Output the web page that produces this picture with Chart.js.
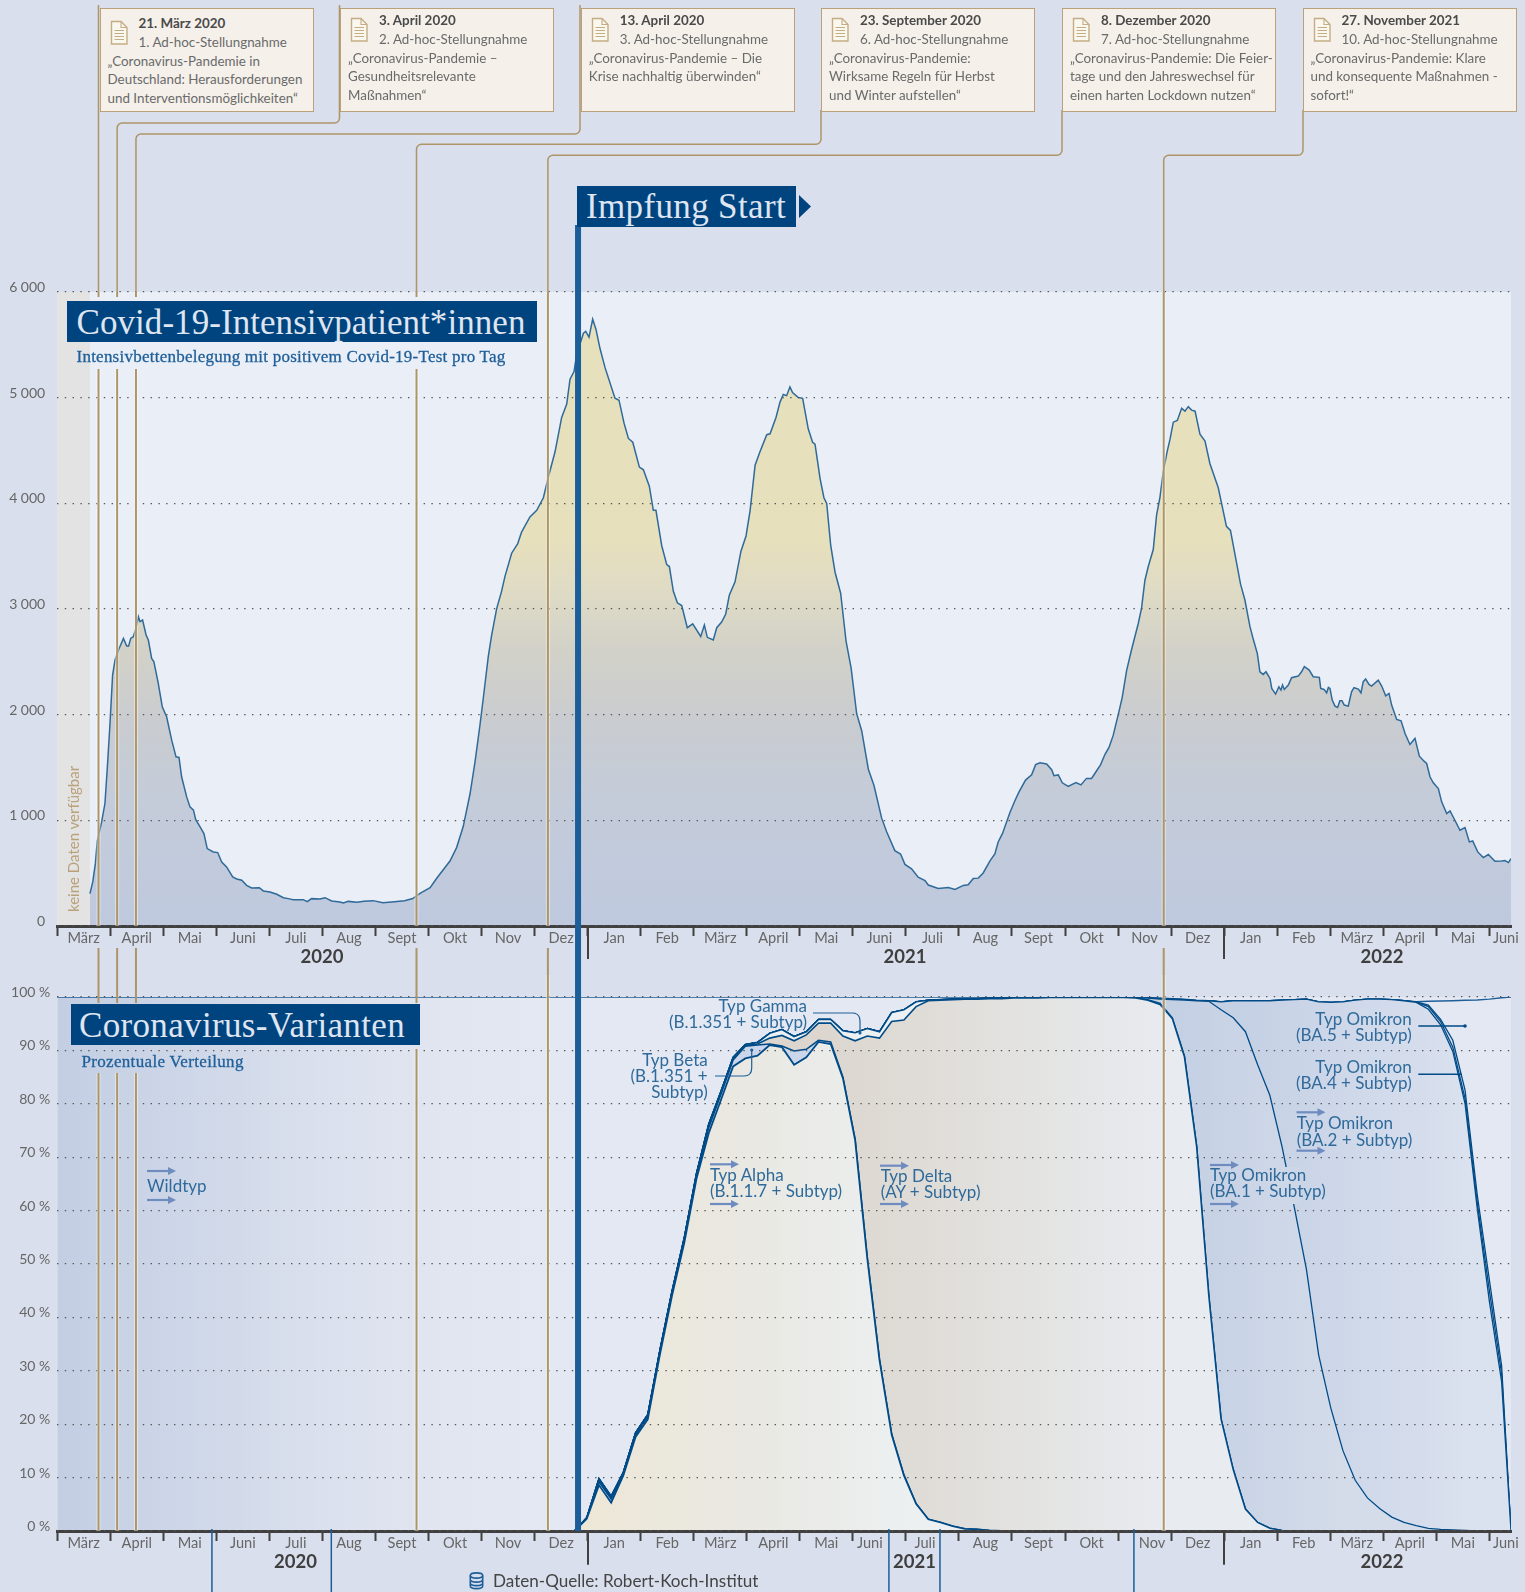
<!DOCTYPE html>
<html lang="de">
<head>
<meta charset="utf-8">
<title>Covid-19-Intensivpatient*innen und Coronavirus-Varianten</title>
<script src="https://cdn.jsdelivr.net/npm/chart.js@4"></script>
<style>
html, body { margin: 0; background: #d9dfec; }
#page { position: relative; width: 1525px; height: 1592px; overflow: hidden; font-family: Lato, sans-serif; }
canvas { position: absolute; left: 0; }
#topChart { top: 0; }
#bottomChart { top: 975px; }
svg.layer { position: absolute; left: 0; top: 0; }
.note { position: absolute; top: 8px; height: 104px; box-sizing: border-box; width: 214px; background: #f5f1ea; border: 1.5px solid #b9a27a; }
.note span { position: absolute; white-space: nowrap; transform: translateY(-50%); font-size: 13.4px; line-height: 1; color: #6a6a6a; }
.note b { color: #4a4a4a; }
.tag { position: absolute; background: #00447f; }
.serif { position: absolute; white-space: nowrap; font-family: "Liberation Serif", serif; transform: translateY(-50%); line-height: 1; }
.sub { font-size: 17px; color: #1f5f99; -webkit-text-stroke: 0.3px #1f5f99; }
.lab { position: absolute; white-space: nowrap; transform: translateY(-50%); font-size: 17px; line-height: 1; color: #2f6a9a; }
.right { transform: translate(-100%, -50%); text-align: right; }
</style>
</head>
<body>
<div id="page">
<canvas id="topChart" width="1525" height="975"></canvas>
<canvas id="bottomChart" width="1525" height="617"></canvas>
</div>
<script>
// Monate auf der Zeitachse
const months = ['März','April','Mai','Juni','Juli','Aug','Sept','Okt','Nov','Dez','Jan','Feb','März','April','Mai','Juni','Juli','Aug','Sept','Okt','Nov','Dez','Jan','Feb','März','April','Mai','Juni'];
const years = ['2020','2021','2022'];
const icuTicks = [0,1000,2000,3000,4000,5000,6000];
const shareTicks = [0,10,20,30,40,50,60,70,80,90,100];

// Stellungnahmen + Impfstart (Tage seit 1. März 2020)
const adHocDays = [23.7, 34.4, 45.2, 206.2, 281.6, 635];
const vaccinationDay = 298.9;
const noDataUntil = 18.8;
const variantMarkDays = [88.8, 157.3, 477.3, 506.6, 617.9];

// Intensivpatienten
const icuDays = [18.8,20.4,21.9,23,25.5,27.4,28.8,30.3,31.8,33.2,35.5,36.4,38,39.9,41,42.2,43.7,45.2,46.6,47.5,49,51,52.3,54.2,55.5,58,60.3,62.8,65.7,68.2,69.9,71.4,74.3,76.2,78.2,79.5,82,84.2,86.1,89.6,92.1,94.4,97.2,100.7,103,105.9,108.7,111.6,116,118.3,122.1,126,129.8,132.6,135.5,141.2,143.5,146,150.8,153.7,157.5,162.3,164.2,167,172,176,181.3,186.9,192,199.4,204,208.2,214,217.8,225.4,229.2,233,236.9,239.8,242.6,244.5,247.4,249.3,252.2,255,257,260.8,264.3,266.5,271.3,275.2,279,281.9,285.7,289.5,292.4,294.3,296.6,298.1,302,303.3,305.2,307.3,309.2,311.5,314.4,320.1,322.4,325.3,327.8,330.3,334.1,336.4,339.8,342.1,343.6,346.9,349.8,351.3,353.6,355.9,358.4,361.6,364.7,369.3,371.4,373.1,376.5,378.5,381.3,383.6,385.7,389,392.4,395.3,397.6,400.5,403.3,407.2,409.1,412.5,414.8,416.7,418.6,420.5,422,425.3,427.8,431,433.5,434.9,437.8,440,441.6,443.9,446.4,449.6,452.7,455.6,458.8,461.7,465.5,468.7,473.1,476,480.7,484,486.5,490.3,494.1,498,499.9,505.6,511.4,515.2,520,522.8,525.7,528.6,531.4,535.3,538.1,540,542.5,546.7,549.6,551.9,555.7,559.2,561.5,564,567.8,570.7,572,574.5,576.8,580.2,584.6,587.5,590.7,593.6,596.5,598.8,601.3,603.6,606,608.9,611.2,613.7,616.6,620.4,622.3,624.2,626.1,629,630.9,632.8,634.7,637,638.6,640.5,642.8,645.3,647.2,649.1,651,653,655.8,658.7,661.5,666.3,671,673.3,679.1,681.6,684.5,686.4,688.7,690.2,692.1,693.7,696,697,699.2,701.1,702.3,703.2,704.2,706.5,708.4,712.2,714.1,715.7,718.5,720.8,724.3,725.1,727,728.5,729.5,730.4,731.7,733.3,734.8,736.1,737.3,738.6,740.9,742.8,744.2,746.7,748.2,749.5,750.9,752.8,754.3,758.1,760.1,762.4,764.3,765.8,768.7,771.2,773.5,776.3,779.2,781.7,784.4,785.9,787.8,789.7,792.6,794.5,797.4,799.3,802.1,805,807.9,810.4,812.3,815.2,818.4,821.3,825.1,828.9,830.8,832.8,834.3];
const icuPatients = [306,417,590,805,985,1159,1506,1917,2375,2517,2627,2659,2722,2650,2650,2722,2738,2817,2927,2880,2896,2754,2706,2533,2501,2296,2075,1980,1759,1601,1595,1412,1222,1127,1096,1007,938,875,733,701,695,606,559,464,445,433,385,360,363,332,322,300,268,259,249,249,230,259,256,268,237,227,218,233,225,235,240,221,228,240,260,308,362,452,615,742,941,1249,1556,1900,2153,2551,2750,3004,3167,3311,3528,3619,3728,3872,3934,4053,4252,4488,4813,4940,5175,5247,5410,5610,5628,5573,5743,5646,5465,5284,4994,4976,4759,4614,4578,4343,4317,4162,3934,3934,3601,3420,3402,3167,3058,3033,2823,2859,2740,2848,2732,2707,2823,2877,2950,3130,3257,3547,3691,3927,4361,4488,4650,4658,4813,4958,5030,5019,5102,5048,5001,4994,4705,4578,4560,4234,4053,3999,3601,3348,3149,2696,2443,2009,1846,1484,1332,1023,892,713,681,583,541,462,430,388,355,365,345,384,391,449,453,502,616,681,795,876,1072,1186,1267,1381,1430,1527,1544,1534,1479,1423,1430,1355,1322,1358,1335,1397,1397,1469,1527,1625,1690,1804,2000,2163,2417,2619,2863,3010,3270,3400,3563,3889,4052,4296,4491,4605,4768,4785,4899,4873,4915,4882,4872,4654,4589,4377,4147,3782,3744,3235,3085,2833,2713,2580,2406,2381,2406,2343,2248,2195,2264,2233,2280,2239,2280,2350,2365,2406,2454,2422,2359,2353,2248,2239,2207,2258,2248,2138,2081,2068,2132,2132,2091,2081,2217,2255,2242,2207,2312,2337,2286,2271,2327,2271,2179,2201,2091,1955,1942,1822,1718,1775,1607,1560,1538,1412,1355,1301,1175,1064,1090,1001,906,932,796,805,701,647,676,613,616,619,600,638];

// Varianten: Oberkante je Fläche in Prozent, eine Spalte pro Woche ab Ende Dezember 2020
const firstWeekDay = 296.9;
const alphaTop = [0,2.3,8.6,5.3,10.4,17.6,20.9,33.1,44.2,54,66,74.5,80.7,87,88.5,89,91,90.6,87.3,88.7,91.6,91.2,84.8,73.2,51,32,18,10.4,5.1,2.2,1.6,0.9,0.4,0.3,0.1,0,0,0,0,0,0,0,0,0,0,0,0,0,0,0,0,0,0,0,0,0,0,0,0,0,0,0,0,0,0,0,0,0,0,0,0,0,0,0,0,0,0,0];
const betaTop = [0,2.4,9.2,6,10.7,18,21.4,33.5,44.6,54.5,66.5,75.5,81.8,88.2,90.8,91,91.2,90.8,89.9,90.2,91.9,91.6,85,73.4,51.1,32.1,18.1,10.5,5.1,2.2,1.6,0.9,0.4,0.3,0.1,0,0,0,0,0,0,0,0,0,0,0,0,0,0,0,0,0,0,0,0,0,0,0,0,0,0,0,0,0,0,0,0,0,0,0,0,0,0,0,0,0,0,0];
const deltaTop = [0,2.4,9.4,6.2,10.8,18.1,21.5,33.6,44.7,54.6,66.6,75.7,82,88.4,90.9,91.2,92.3,92.8,91.8,92.9,95.1,95.1,92.7,91.8,92.7,92.3,95.4,95.7,98.2,99.3,99.4,99.5,99.6,99.6,99.7,99.7,99.8,99.8,99.8,99.9,99.9,99.9,99.9,99.9,99.9,99.9,99.8,99.4,98.6,96,88.8,72,44,21,11.5,4.1,1.6,0.5,0.1,0,0,0,0,0,0,0,0,0,0,0,0,0,0,0,0,0,0,0];
const gammaTop = [0,2.5,9.8,6.5,11,18.4,21.8,33.9,45,55,67,76.2,82.3,88.7,91.1,91.5,93.2,93.9,92.6,93.5,95.8,95.8,93.7,93.3,94.1,93.5,97.1,97.6,99.1,99.4,99.5,99.6,99.7,99.7,99.8,99.8,99.9,99.9,99.9,99.9,99.9,100,100,100,100,99.9,99.8,99.5,98.8,96.1,88.9,72.1,44,21,11.5,4.1,1.6,0.5,0.1,0,0,0,0,0,0,0,0,0,0,0,0,0,0,0,0,0,0,0];
const ba1Top = [0,2.5,9.8,6.5,11,18.4,21.8,33.9,45,55,67,76.2,82.3,88.7,91.1,91.5,93.2,93.9,92.6,93.5,95.8,95.8,93.7,93.3,94.1,93.5,97.1,97.6,99.1,99.4,99.5,99.6,99.7,99.7,99.8,99.8,99.9,99.9,99.9,99.9,99.9,100,100,100,100,99.9,99.9,99.8,99.6,99.5,99.4,99.3,99.2,97.6,96.1,93.5,87.3,81.6,72,60.7,49,33,23,15,9.5,6.2,4.2,2.6,1.6,1,0.5,0.3,0.2,0.1,0,0,0,0];
const ba2Top = [0,2.5,9.8,6.5,11,18.4,21.8,33.9,45,55,67,76.2,82.3,88.7,91.1,91.5,93.2,93.9,92.6,93.5,95.8,95.8,93.7,93.3,94.1,93.5,97.1,97.6,99.1,99.4,99.5,99.6,99.7,99.7,99.8,99.8,99.9,99.9,99.9,99.9,99.9,100,100,100,100,99.9,99.9,99.8,99.7,99.6,99.5,99.3,99.3,99.1,99.3,99.3,99.3,99.3,99.4,99.5,99.6,99.1,99,99.1,99.4,99.6,99.6,99.5,99.3,99,97.7,94.8,89.8,80.1,60.5,43,28,0];
const ba4Top = [0,2.5,9.8,6.5,11,18.4,21.8,33.9,45,55,67,76.2,82.3,88.7,91.1,91.5,93.2,93.9,92.6,93.5,95.8,95.8,93.7,93.3,94.1,93.5,97.1,97.6,99.1,99.4,99.5,99.6,99.7,99.7,99.8,99.8,99.9,99.9,99.9,99.9,99.9,100,100,100,100,99.9,99.9,99.8,99.7,99.6,99.5,99.3,99.3,99.1,99.3,99.3,99.3,99.3,99.4,99.5,99.6,99.1,99,99.1,99.4,99.6,99.6,99.5,99.3,99.05,98.2,95.4,90.6,81,61.5,45,29.5,0];
const ba5Top = [0,2.5,9.8,6.5,11,18.4,21.8,33.9,45,55,67,76.2,82.3,88.7,91.1,91.5,93.2,93.9,92.6,93.5,95.8,95.8,93.7,93.3,94.1,93.5,97.1,97.6,99.1,99.4,99.5,99.6,99.7,99.7,99.8,99.8,99.9,99.9,99.9,99.9,99.9,100,100,100,100,99.9,99.9,99.8,99.7,99.6,99.5,99.3,99.3,99.1,99.3,99.3,99.3,99.3,99.4,99.5,99.6,99.1,99,99.1,99.4,99.6,99.6,99.5,99.3,99.1,98.5,95.8,91.9,82.6,63,47,31,0];
const wildTop = [100,100,100,100,100,100,100,100,100,100,100,100,100,100,100,100,100,100,100,100,100,100,100,100,100,100,100,100,100,100,100,100,100,100,100,100,100,100,100,100,100,100,100,100,100,100,100,99.9,99.8,99.7,99.6,99.4,99.3,99.1,99.3,99.3,99.3,99.3,99.4,99.5,99.6,99.1,99,99.1,99.4,99.6,99.6,99.5,99.3,99.1,99.2,99.25,99.3,99.4,99.45,99.6,99.85,100];

const xMax = 834.3, monthDays = 30.44;
const INK = '#404040', TAN = '#ad9567', BLUE = '#1b5e99', CURVE = '#004b87';
const SPLIT = 975; // y der Naht zwischen den beiden Canvas
Chart.defaults.font.family = 'Lato, sans-serif';
Chart.defaults.devicePixelRatio = 1;

function weekPoints(values, first) {
  const pts = [{ x: 0, y: first }];
  values.forEach((v, i) => pts.push({ x: Math.min(firstWeekDay + i * 7, xMax), y: v }));
  return pts;
}

// horizontaler Verlauf zwischen zwei Tagen
function hGrad(d0, d1, stops) {
  return c => {
    const s = c.chart.scales.x;
    if (!s || !c.chart.chartArea) return 'transparent';
    const g = c.chart.ctx.createLinearGradient(s.getPixelForValue(d0), 0, s.getPixelForValue(d1), 0);
    stops.forEach((col, i) => g.addColorStop(i / (stops.length - 1), col));
    return g;
  };
}

function monthScale(labelShift, axisH) {
  return {
    type: 'linear', min: 0, max: xMax,
    afterBuildTicks(axis) {
      const t = [];
      months.forEach((name, i) => {
        t.push({ value: i * monthDays, major: true, name: '' });
        const frac = i === months.length - 1 ? 0.31 : 0.5;
        const mid = (i + frac + (labelShift[i] || 0)) * monthDays;
        t.push({ value: mid, major: false, name });
      });
      axis.ticks = t;
    },
    afterFit(axis) { axis.height = axisH; axis.paddingLeft = 0; axis.paddingRight = 0; },
    grid: { drawOnChartArea: false, tickLength: 10, tickWidth: 2, tickColor: c => c.tick && c.tick.major ? INK : 'rgba(0,0,0,0)' },
    border: { color: INK, width: 3, z: 1 },
    ticks: { autoSkip: false, minRotation: 0, maxRotation: 0, padding: -6, color: '#666', font: { size: 14.6 }, callback: (v, i, t) => t[i].name }
  };
}

function valueScale(ticks, max, pad, fmt) {
  return {
    min: 0, max,
    afterBuildTicks(axis) { axis.ticks = ticks.map(value => ({ value })); },
    afterFit(axis) { axis.width = 57.2; axis.paddingTop = 0; axis.paddingBottom = 0; },
    grid: { color: '#555', lineWidth: 1.3, drawTicks: false, z: 1 },
    border: { display: false, dash: [1.4, 6.4] },
    // zweite leere Zeile schiebt die Beschriftung leicht über die Linie
    ticks: { padding: pad, color: '#666', font: { size: 14, lineHeight: 0.65 }, callback: v => [fmt(v), ''] }
  };
}

function yearMarks(ctx, chart, yearX, textY, longTo) {
  const x = chart.scales.x;
  ctx.strokeStyle = INK; ctx.lineWidth = 2;
  [10, 22].forEach(m => {
    const px = Math.round(x.getPixelForValue(m * monthDays));
    ctx.beginPath(); ctx.moveTo(px, chart.chartArea.bottom); ctx.lineTo(px, longTo); ctx.stroke();
  });
  ctx.fillStyle = '#3f3f3f'; ctx.font = 'bold 18.5px Lato'; ctx.textAlign = 'center'; ctx.textBaseline = 'middle';
  years.forEach((y, i) => ctx.fillText(y, yearX[i], textY));
}

function tanLine(ctx, px, y0, y1, halo) {
  if (halo) {
    ctx.strokeStyle = 'rgba(255,255,255,0.45)'; ctx.lineWidth = 4;
    ctx.beginPath(); ctx.moveTo(px, y0); ctx.lineTo(px, y1); ctx.stroke();
  }
  ctx.strokeStyle = TAN; ctx.lineWidth = 2;
  ctx.beginPath(); ctx.moveTo(px, y0); ctx.lineTo(px, y1); ctx.stroke();
}

const topFrame = {
  id: 'topFrame',
  beforeDraw(chart) {
    const { ctx, chartArea: a, scales: { x } } = chart;
    ctx.save();
    ctx.fillStyle = '#eaeef7'; ctx.fillRect(a.left, a.top, a.right - a.left, a.bottom - a.top);
    ctx.fillStyle = '#e3e3e3'; ctx.fillRect(a.left, a.top, x.getPixelForValue(noDataUntil) - a.left, a.bottom - a.top);
    ctx.restore();
  },
  afterDraw(chart) {
    const { ctx, chartArea: a, scales: { x } } = chart;
    ctx.save();
    // Verbinder von den Stellungnahmen nach unten
    const elbow = [[null, 5], [339.5, 123], [580, 134], [821, 144.3], [1062, 155.3], [1303, 155.3]];
    adHocDays.forEach((d, i) => {
      const px = x.getPixelForValue(d), [ex, ey] = elbow[i];
      ctx.beginPath();
      ctx.lineWidth = 1.5; ctx.strokeStyle = TAN;
      if (ex === null) { ctx.moveTo(px, ey); ctx.lineTo(px, a.top); }
      else {
        ctx.moveTo(ex, i < 3 ? 5 : 110);
        ctx.arcTo(ex, ey, px, ey, 5);
        ctx.arcTo(px, ey, px, a.top, 5);
        ctx.lineTo(px, a.top);
      }
      ctx.stroke();
      const gap = i < 4;
      tanLine(ctx, px, a.top, gap ? 297 : a.bottom, true);
      if (gap) tanLine(ctx, px, 369, a.bottom, true);
      tanLine(ctx, px, 948, SPLIT, false);
    });
    const v = x.getPixelForValue(vaccinationDay);
    ctx.strokeStyle = BLUE; ctx.lineWidth = 6;
    ctx.beginPath(); ctx.moveTo(v, 225); ctx.lineTo(v, SPLIT); ctx.stroke();
    yearMarks(ctx, chart, [322, 905, 1382], 957, 959);
    ctx.restore();
  }
};

const bottomFrame = {
  id: 'bottomFrame',
  beforeDraw(chart) {
    const { ctx, chartArea: a } = chart;
    ctx.save();
    ctx.fillStyle = '#e4e8f2'; ctx.fillRect(a.left, a.top, a.right - a.left, a.bottom - a.top);
    ctx.restore();
  },
  afterDraw(chart) {
    const { ctx, chartArea: a, scales: { x } } = chart;
    ctx.save();
    // Lücken hinter Titel und Untertitel
    adHocDays.forEach((d, i) => {
      const px = x.getPixelForValue(d);
      if (i < 3) { tanLine(ctx, px, 0, 1003 - SPLIT, false); tanLine(ctx, px, 1073 - SPLIT, a.bottom, true); }
      else if (i === 3) { tanLine(ctx, px, 0, 1003 - SPLIT, false); tanLine(ctx, px, 1049 - SPLIT, a.bottom, true); }
      else tanLine(ctx, px, 0, a.bottom, true);
    });
    const v = x.getPixelForValue(vaccinationDay);
    ctx.strokeStyle = BLUE; ctx.lineWidth = 6;
    ctx.beginPath(); ctx.moveTo(v, 0); ctx.lineTo(v, a.bottom); ctx.stroke();
    ctx.lineWidth = 1.5;
    variantMarkDays.forEach(d => {
      const px = x.getPixelForValue(d);
      ctx.beginPath(); ctx.moveTo(px, a.bottom - 2); ctx.lineTo(px, chart.height); ctx.stroke();
    });
    yearMarks(ctx, chart, [295.4, 914.4, 1382], 1561.7 - SPLIT, 1564.7 - SPLIT);
    ctx.restore();
  }
};

new Chart(document.getElementById('topChart'), {
  type: 'line',
  plugins: [topFrame],
  data: {
    datasets: [{
      data: icuDays.map((d, i) => ({ x: d, y: icuPatients[i] })),
      borderColor: '#2f6a99', borderWidth: 1.5, pointRadius: 0, tension: 0, fill: 'origin',
      backgroundColor: c => {
        if (!c.chart.chartArea) return 'transparent';
        const g = c.chart.ctx.createLinearGradient(0, 292, 0, 926);
        g.addColorStop(0, '#e7e0bc'); g.addColorStop(0.39, '#e7e0bc');
        g.addColorStop(0.46, '#e0dcc4'); g.addColorStop(0.56, '#d3d2c8');
        g.addColorStop(0.68, '#c9ccd0'); g.addColorStop(0.81, '#c4ccda'); g.addColorStop(1, '#bfc9de');
        return g;
      }
    }]
  },
  options: {
    responsive: false, animation: false, events: [],
    layout: { padding: { top: 292, right: 14, left: 0, bottom: 0 } },
    plugins: { legend: { display: false }, tooltip: { enabled: false } },
    scales: {
      x: monthScale({}, SPLIT - 926),
      y: valueScale(icuTicks, 6000, 12, v => v === 0 ? '0' : (v / 1000) + '\u202f000')
    }
  }
});

function variantSet(values, first, width, fill, color, line) {
  return { data: weekPoints(values, first), borderColor: line || CURVE, borderWidth: width, pointRadius: 0, tension: 0, fill, backgroundColor: color };
}

new Chart(document.getElementById('bottomChart'), {
  type: 'line',
  plugins: [bottomFrame],
  data: {
    datasets: [
      variantSet(alphaTop, 0, 1.8, 'origin', hGrad(300, 490, ['#ede7d6', '#e9e8e2', '#ecf0f1'])),
      variantSet(betaTop, 0, 1.6, '-1', '#cbd6ea'),
      variantSet(deltaTop, 0, 1.6, '-1', hGrad(440, 640, ['#dcd6cf', '#e2e1de', '#e8ebf0'])),
      variantSet(gammaTop, 0, 1.6, '-1', '#edf0f3'),
      variantSet(ba1Top, 0, 1.3, '-1', hGrad(640, 740, ['#c3cfe3', '#d4dcea'])),
      variantSet(ba2Top, 0, 1.3, '-1', hGrad(680, 810, ['#c4d0e4', '#dae1ef'])),
      variantSet(ba4Top, 0, 1.3, '-1', '#dce2ef'),
      variantSet(ba5Top, 0, 1.3, '-1', '#dce2ef'),
      variantSet(wildTop, 100, 1.4, '-1', hGrad(0, 300, ['#c3cee3', '#ced7e8', '#dae0ed', '#e2e6f1', '#e3e8f3']), '#1f5f99')
    ]
  },
  options: {
    responsive: false, animation: false, events: [],
    layout: { padding: { top: 997 - SPLIT, right: 14, left: 0, bottom: 0 } },
    plugins: { legend: { display: false }, tooltip: { enabled: false } },
    scales: {
      x: monthScale({ 15: -0.18, 16: -0.14, 20: 0.14 }, 61),
      y: valueScale(shareTicks, 100, 7, v => v + ' %')
    }
  }
});

// Texte und Kästen als HTML über den Diagrammen
const page = document.getElementById('page');
function el(cls, style, html) {
  const d = document.createElement('div');
  d.className = cls; d.style.cssText = style; d.innerHTML = html || '';
  page.appendChild(d); return d;
}
// Breite über den Zeichenabstand an die Vorlage anpassen
function fit(node, width) {
  const n = node.textContent.length, w = node.getBoundingClientRect().width;
  node.style.letterSpacing = ((width - w) / n).toFixed(3) + 'px';
}

const notes = [
  [99.5, 23, '21. März 2020', '1. Ad-hoc-Stellungnahme', ['„Coronavirus-Pandemie in', 'Deutschland: Herausforderungen', 'und Interventionsmöglichkeiten“']],
  [340, 20, '3. April 2020', '2. Ad-hoc-Stellungnahme', ['„Coronavirus-Pandemie –', 'Gesundheitsrelevante', 'Maßnahmen“']],
  [580.8, 20, '13. April 2020', '3. Ad-hoc-Stellungnahme', ['„Coronavirus-Pandemie – Die', 'Krise nachhaltig überwinden“']],
  [821, 20, '23. September 2020', '6. Ad-hoc-Stellungnahme', ['„Coronavirus-Pandemie:', 'Wirksame Regeln für Herbst', 'und Winter aufstellen“']],
  [1062, 20, '8. Dezember 2020', '7. Ad-hoc-Stellungnahme', ['„Coronavirus-Pandemie: Die Feier-', 'tage und den Jahreswechsel für', 'einen harten Lockdown nutzen“']],
  [1302.5, 20, '27. November 2021', '10. Ad-hoc-Stellungnahme', ['„Coronavirus-Pandemie: Klare', 'und konsequente Maßnahmen -', 'sofort!“']]
];
notes.forEach(([left, firstY, date, kind, lines]) => {
  const y0 = firstY - 8;
  let html = '<svg width="20" height="26" style="position:absolute;left:9px;top:' + (y0 - 4) + 'px"><path d="M1.5 1.5H11L17 7.5V24H1.5Z" fill="#faf7ef" stroke="#c4ad84" stroke-width="1.4"/><path d="M11 1.5V7.5H17M4.5 10.5H14M4.5 13.5H14M4.5 16.5H14M4.5 19.5H14" fill="none" stroke="#c4ad84" stroke-width="1.1"/></svg>';
  html += '<span style="left:38px;top:' + y0 + 'px"><b>' + date + '</b></span>';
  html += '<span style="left:38px;top:' + (y0 + 18.5) + 'px">' + kind + '</span>';
  lines.forEach((t, i) => {
    html += '<span style="left:7px;top:' + (y0 + 38 + i * 18.3) + 'px">' + t + '</span>';
  });
  el('note', 'left:' + left + 'px', html);
});

el('tag', 'left:577px;top:186px;width:219px;height:41px');
const t0 = el('serif', 'left:586px;top:206px;font-size:35px;color:#dfe5f1', 'Impfung Start');
el('tag', 'left:66.8px;top:301px;width:470px;height:41px');
const t1 = el('serif', 'left:76.5px;top:321.5px;font-size:35px;color:#dfe5f1', 'Covid-19-Intensivpatient*innen');
const s1 = el('serif sub', 'left:76.5px;top:355.5px', 'Intensivbettenbelegung mit positivem Covid-19-Test pro Tag');
el('tag', 'left:70.8px;top:1004px;width:349.5px;height:41px');
const t2 = el('serif', 'left:79px;top:1025px;font-size:35px;color:#dfe5f1', 'Coronavirus-Varianten');
const s2 = el('serif sub', 'left:81.4px;top:1060.5px', 'Prozentuale Verteilung');
fit(t0, 200); fit(t1, 449); fit(s1, 429); fit(t2, 326); fit(s2, 162.4);

el('', 'position:absolute;left:65.5px;top:912px;color:#b9a27a;font-size:15px;line-height:15px;white-space:nowrap;transform-origin:0 0;transform:rotate(-90deg)', 'keine Daten verfügbar');

// Pfeile, Führungslinien, Datenbank-Symbol; die BA.1-Kurve läuft hinter dem Text unterbrochen
const arrows = [[147, 1171], [147, 1200], [710, 1164.3], [710, 1204], [880, 1165.7], [880, 1204], [1296.5, 1112.3], [1296.5, 1150.7], [1210, 1165], [1210, 1204]];
let svg = '<svg class="layer" width="1525" height="1592">';
svg += '<rect x="1284" y="1167" width="16" height="37" fill="#ced7e8"/>';
arrows.forEach(([x, y]) => {
  svg += '<path d="M' + x + ' ' + y + 'h22" stroke="#6f8cc0" stroke-width="2.2"/><path d="M' + (x + 21) + ' ' + (y - 4) + 'l8 4l-8 4z" fill="#6f8cc0"/>';
});
svg += '<g fill="none" stroke="#1f5f99" stroke-width="1.2">' +
  '<path d="M813 1013H852Q860 1013 860 1021V1033"/>' +
  '<path d="M715 1076H744Q751.7 1076 751.7 1068V1050"/></g>' +
  '<g fill="none" stroke="#004b87" stroke-width="1.4"><path d="M1418.3 1026H1465"/><path d="M1418.3 1074.3H1461.7"/></g>' +
  '<circle cx="860" cy="1033" r="1.6" fill="#1f5f99"/><circle cx="751.7" cy="1050" r="1.6" fill="#1f5f99"/><circle cx="1465" cy="1026" r="1.8" fill="#004b87"/>';
svg += '<path d="M799 195L811 206.5L799 218Z" fill="#00447f"/>';
svg += '<g fill="none" stroke="#1f5f99" stroke-width="1.6"><ellipse cx="476.5" cy="1575.5" rx="6.2" ry="2.6"/><path d="M470.3 1575.5V1586c0 3.5 12.4 3.5 12.4 0V1575.5M470.3 1579.5c0 3.5 12.4 3.5 12.4 0M470.3 1583c0 3.5 12.4 3.5 12.4 0"/></g>';
svg += '</svg>';
page.insertAdjacentHTML('beforeend', svg);

const labels = [
  ['Wildtyp', 147, 1184.5, 0],
  ['Typ Gamma', 807, 1004.5, 1], ['(B.1.351 + Subtyp)', 807, 1020.5, 1],
  ['Typ Beta', 707.7, 1059.2, 1], ['(B.1.351 +', 707.7, 1075.2, 1], ['Subtyp)', 707.7, 1091.2, 1],
  ['Typ Alpha', 710, 1174.2, 0], ['(B.1.1.7 + Subtyp)', 710, 1190.2, 0],
  ['Typ Delta', 880.7, 1175.2, 0], ['(AY + Subtyp)', 880.7, 1191.2, 0],
  ['Typ Omikron', 1411.7, 1017.8, 1], ['(BA.5 + Subtyp)', 1411.7, 1034.2, 1],
  ['Typ Omikron', 1411.7, 1065.8, 1], ['(BA.4 + Subtyp)', 1411.7, 1081.8, 1],
  ['Typ Omikron', 1296.7, 1121.8, 0], ['(BA.2 + Subtyp)', 1296.7, 1138.5, 0],
  ['Typ Omikron', 1210, 1174.2, 0], ['(BA.1 + Subtyp)', 1210, 1190.2, 0]
];
labels.forEach(([t, x, y, right]) => el('lab' + (right ? ' right' : ''), 'left:' + x + 'px;top:' + y + 'px', t));

el('', 'position:absolute;left:493px;top:1581px;transform:translateY(-50%);font-size:17.1px;color:#444;white-space:nowrap;line-height:1', 'Daten-Quelle: Robert-Koch-Institut');
</script>
</body>
</html>
